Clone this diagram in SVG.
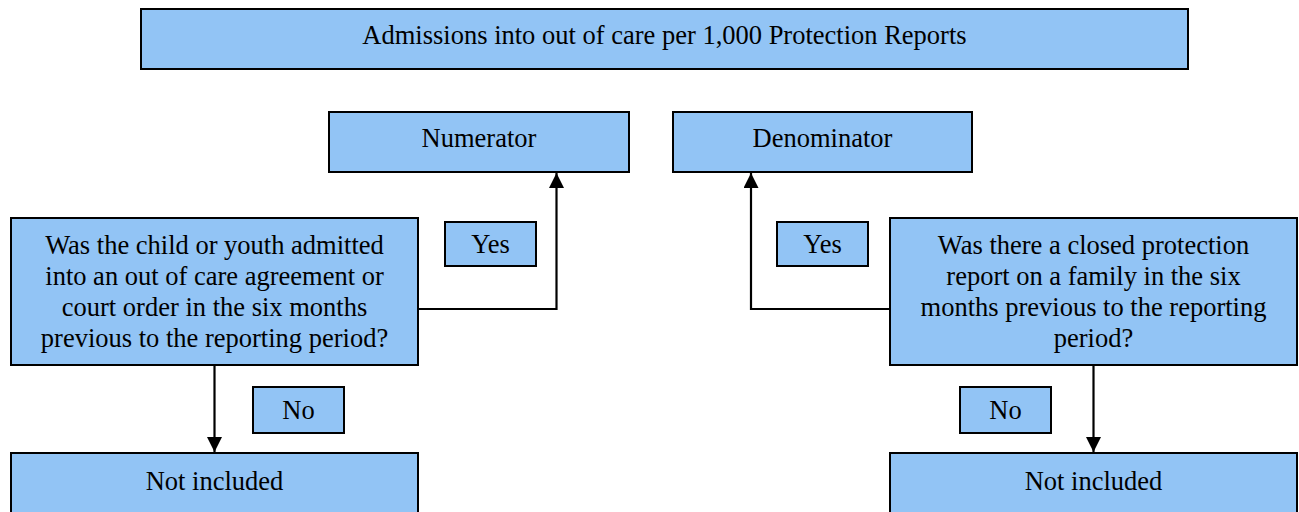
<svg xmlns="http://www.w3.org/2000/svg" width="1299" height="512" viewBox="0 0 1299 512">
<style>
  .box { fill: #92C4F5; stroke: #000; stroke-width: 2; }
  .t { font-family: "Liberation Serif", "Times New Roman", serif; font-size: 26.5px; fill: #000; text-anchor: middle; }
  .conn { fill: none; stroke: #000; stroke-width: 2.2; }
</style>
<defs>
  <marker id="arr" viewBox="0 0 15 15" refX="15" refY="7.5" markerWidth="15" markerHeight="15" orient="auto" markerUnits="userSpaceOnUse">
    <path d="M0,0 L15,7.5 L0,15 z" fill="#000"/>
  </marker>
</defs>
<rect width="1299" height="512" fill="#fff"/>
<g id="title">
  <rect class="box" x="141" y="9" width="1047" height="60"/>
  <text class="t" x="664.5" y="44">Admissions into out of care per 1,000 Protection Reports</text>
</g>
<g id="numerator">
  <rect class="box" x="329" y="112" width="300" height="60"/>
  <text class="t" x="479" y="147">Numerator</text>
</g>
<g id="denominator">
  <rect class="box" x="673" y="112" width="299" height="60"/>
  <text class="t" x="822.5" y="147">Denominator</text>
</g>
<g id="q-left">
  <rect class="box" x="11" y="218" width="407" height="147"/>
  <text class="t" x="214.5" y="254">Was the child or youth admitted</text>
  <text class="t" x="214.5" y="285">into an out of care agreement or</text>
  <text class="t" x="214.5" y="316">court order in the six months</text>
  <text class="t" x="214.5" y="347">previous to the reporting period?</text>
</g>
<g id="q-right">
  <rect class="box" x="890" y="218" width="407" height="147"/>
  <text class="t" x="1093.5" y="254">Was there a closed protection</text>
  <text class="t" x="1093.5" y="285">report on a family in the six</text>
  <text class="t" x="1093.5" y="316">months previous to the reporting</text>
  <text class="t" x="1093.5" y="347">period?</text>
</g>
<g id="yes-left">
  <rect class="box" x="445" y="222" width="91" height="44"/>
  <text class="t" x="490.5" y="253">Yes</text>
</g>
<g id="yes-right">
  <rect class="box" x="777" y="222" width="91" height="44"/>
  <text class="t" x="822.5" y="253">Yes</text>
</g>
<g id="no-left">
  <rect class="box" x="253" y="387" width="91" height="46"/>
  <text class="t" x="298.5" y="419">No</text>
</g>
<g id="no-right">
  <rect class="box" x="960" y="387" width="91" height="46"/>
  <text class="t" x="1005.5" y="419">No</text>
</g>
<g id="excl-left">
  <rect class="box" x="11" y="453" width="407" height="80"/>
  <text class="t" x="214.5" y="490">Not included</text>
</g>
<g id="excl-right">
  <rect class="box" x="890" y="453" width="407" height="80"/>
  <text class="t" x="1093.5" y="490">Not included</text>
</g>
<g id="connectors">
  <path class="conn" d="M418,309 H556.5 V173" marker-end="url(#arr)"/>
  <path class="conn" d="M890,309 H751 V173" marker-end="url(#arr)"/>
  <path class="conn" d="M214.5,365 V452" marker-end="url(#arr)"/>
  <path class="conn" d="M1093.5,365 V452" marker-end="url(#arr)"/>
</g>
</svg>
